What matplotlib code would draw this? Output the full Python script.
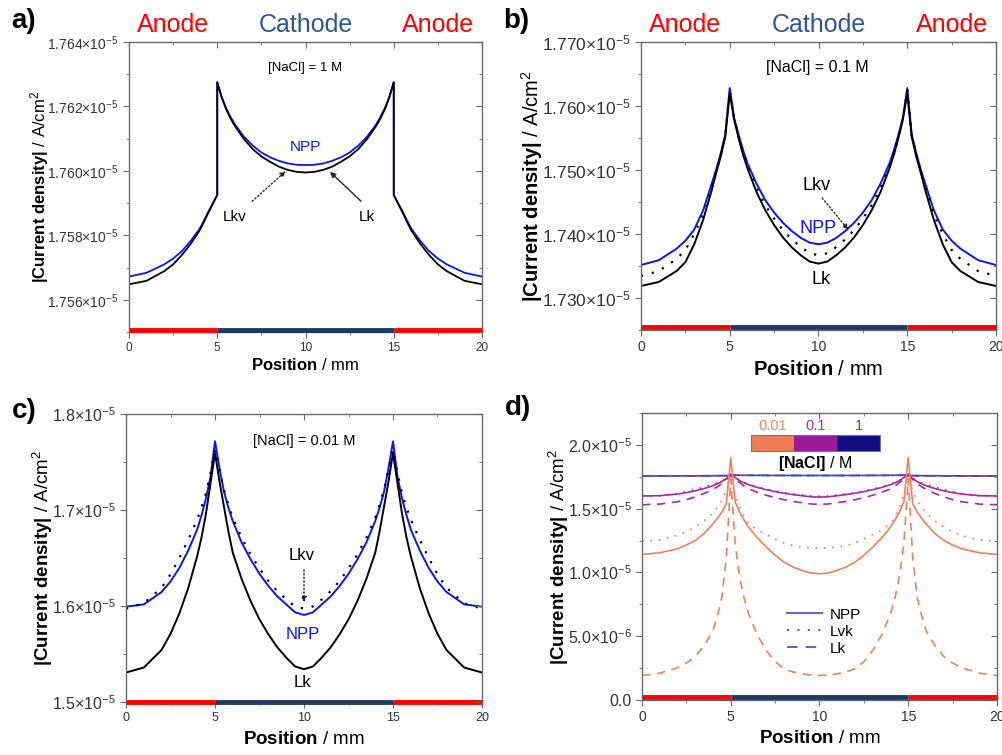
import numpy as np
import matplotlib
matplotlib.use('Agg')
import matplotlib.pyplot as plt
from matplotlib.ticker import MultipleLocator, FuncFormatter, NullFormatter

plt.rcParams['font.family'] = ['Liberation Sans', 'DejaVu Sans']
plt.rcParams['mathtext.fontset'] = 'custom'
plt.rcParams['mathtext.rm'] = 'Liberation Sans'
plt.rcParams['mathtext.bf'] = 'Liberation Sans:bold'
plt.rcParams['mathtext.it'] = 'Liberation Sans:italic'

# ---- data (current density in units of 1e-5 A/cm2, position in mm) ----
# panel a, [NaCl] = 1 M (jump at the electrode edges)
x_a = [0, 1, 2, 2.5, 3, 3.5, 4, 4.25, 4.5, 4.75, 5,
       5,
       5.25, 5.5, 5.75, 6, 6.5, 7, 7.5, 8, 8.5, 9, 9.5,
       10,
       10.5, 11, 11.5, 12, 12.5, 13, 13.5, 14, 14.25, 14.5, 14.75,
       15,
       15, 15.25, 15.5, 15.75, 16, 16.5, 17, 17.5, 18, 19, 20]
npp_a = [1.75672, 1.75684, 1.75710, 1.75728, 1.75751, 1.75783, 1.75820, 1.75846, 1.75874, 1.75899, 1.75925,
         1.76275,
         1.76230, 1.76195, 1.76168, 1.76144, 1.76107, 1.76079, 1.76057, 1.76042, 1.76031, 1.76023, 1.76019,
         1.76018,
         1.76019, 1.76023, 1.76031, 1.76042, 1.76057, 1.76079, 1.76107, 1.76144, 1.76168, 1.76195, 1.76230,
         1.76275,
         1.75925, 1.75899, 1.75874, 1.75846, 1.75820, 1.75783, 1.75751, 1.75728, 1.75710, 1.75684, 1.75672]
lk_a = [1.75648, 1.75659, 1.75689, 1.75710, 1.75739, 1.75774, 1.75815, 1.75842, 1.75871, 1.75898, 1.75925,
        1.76275,
        1.76228, 1.76192, 1.76163, 1.76139, 1.76100, 1.76068, 1.76045, 1.76028, 1.76013, 1.76003, 1.75997,
        1.75995,
        1.75997, 1.76003, 1.76013, 1.76028, 1.76045, 1.76068, 1.76100, 1.76139, 1.76163, 1.76192, 1.76228,
        1.76275,
        1.75925, 1.75898, 1.75871, 1.75842, 1.75815, 1.75774, 1.75739, 1.75710, 1.75689, 1.75659, 1.75648]

# common grid for panels b, c, d
x_pos = [0, 1, 2, 2.5, 3, 3.5, 4, 4.25, 4.5, 4.75,
         5,
         5.25, 5.5, 5.75, 6, 6.5, 7, 7.5, 8, 8.5, 9, 9.5,
         10,
         10.5, 11, 11.5, 12, 12.5, 13, 13.5, 14, 14.25, 14.5, 14.75,
         15,
         15.25, 15.5, 15.75, 16, 16.5, 17, 17.5, 18, 19, 20]

# panel b, [NaCl] = 0.1 M
npp_b = [1.73515, 1.73590, 1.73770, 1.73895, 1.74070, 1.74370, 1.74800, 1.75020, 1.75270, 1.75560,
         1.76280,
         1.75810, 1.75549, 1.75310, 1.75105, 1.74790, 1.74530, 1.74335, 1.74174, 1.74045, 1.73939, 1.73865,
         1.73840,
         1.73865, 1.73939, 1.74045, 1.74174, 1.74335, 1.74530, 1.74790, 1.75105, 1.75310, 1.75549, 1.75810,
         1.76280,
         1.75560, 1.75270, 1.75020, 1.74800, 1.74370, 1.74070, 1.73895, 1.73770, 1.73590, 1.73515]
lkv_b = [1.73344, 1.73420, 1.73610, 1.73750, 1.74000, 1.74300, 1.74750, 1.75000, 1.75245, 1.75540,
         1.76244,
         1.75794, 1.75523, 1.75275, 1.75063, 1.74720, 1.74451, 1.74240, 1.74059, 1.73915, 1.73798, 1.73700,
         1.73668,
         1.73700, 1.73798, 1.73915, 1.74059, 1.74240, 1.74451, 1.74720, 1.75063, 1.75275, 1.75523, 1.75794,
         1.76244,
         1.75540, 1.75245, 1.75000, 1.74750, 1.74300, 1.74000, 1.73750, 1.73610, 1.73420, 1.73344]
lk_b = [1.73188, 1.73250, 1.73420, 1.73560, 1.73840, 1.74220, 1.74700, 1.74970, 1.75220, 1.75520,
        1.76202,
        1.75784, 1.75496, 1.75240, 1.75026, 1.74660, 1.74373, 1.74140, 1.73945, 1.73790, 1.73668, 1.73570,
        1.73537,
        1.73570, 1.73668, 1.73790, 1.73945, 1.74140, 1.74373, 1.74660, 1.75026, 1.75240, 1.75496, 1.75784,
        1.76202,
        1.75520, 1.75220, 1.74970, 1.74700, 1.74220, 1.73840, 1.73560, 1.73420, 1.73250, 1.73188]

# panel c, [NaCl] = 0.01 M
npp_c = [1.5993, 1.6017, 1.6146, 1.6255, 1.6398, 1.6580, 1.6797, 1.6950, 1.7126, 1.7351,
         1.7715,
         1.7438, 1.7195, 1.7025, 1.6884, 1.6660, 1.6485, 1.6335, 1.6208, 1.6100, 1.6017, 1.5934,
         1.5906,
         1.5934, 1.6017, 1.6100, 1.6208, 1.6335, 1.6485, 1.6660, 1.6884, 1.7025, 1.7195, 1.7438,
         1.7715,
         1.7351, 1.7126, 1.6950, 1.6797, 1.6580, 1.6398, 1.6255, 1.6146, 1.6017, 1.5993]
lkv_c = [1.5972, 1.6028, 1.6191, 1.6330, 1.6502, 1.6690, 1.6901, 1.7030, 1.7178, 1.7386,
         1.7629,
         1.7421, 1.7213, 1.7055, 1.6918, 1.6710, 1.6537, 1.6390, 1.6260, 1.6155, 1.6069, 1.5995,
         1.5972,
         1.5995, 1.6069, 1.6155, 1.6260, 1.6390, 1.6537, 1.6710, 1.6918, 1.7055, 1.7213, 1.7421,
         1.7629,
         1.7386, 1.7178, 1.7030, 1.6901, 1.6690, 1.6502, 1.6330, 1.6191, 1.6028, 1.5972]
lk_c = [1.5307, 1.5359, 1.5543, 1.5710, 1.5924, 1.6190, 1.6520, 1.6720, 1.6970, 1.7282,
        1.7594,
        1.7299, 1.7040, 1.6780, 1.6554, 1.6280, 1.6052, 1.5860, 1.5705, 1.5570, 1.5463, 1.5370,
        1.5342,
        1.5370, 1.5463, 1.5570, 1.5705, 1.5860, 1.6052, 1.6280, 1.6554, 1.6780, 1.7040, 1.7299,
        1.7594,
        1.7282, 1.6970, 1.6720, 1.6520, 1.6190, 1.5924, 1.5710, 1.5543, 1.5359, 1.5307]

# panel d, lowest concentration curves
npp_d = [1.1412, 1.1542, 1.1856, 1.2150, 1.2509, 1.3050, 1.3816, 1.4250, 1.4731, 1.5385,
         1.8992,
         1.5516, 1.4731, 1.4100, 1.3555, 1.2700, 1.1987, 1.1350, 1.0810, 1.0430, 1.0157, 0.9960,
         0.9895,
         0.9960, 1.0157, 1.0430, 1.0810, 1.1350, 1.1987, 1.2700, 1.3555, 1.4100, 1.4731, 1.5516,
         1.8992,
         1.5385, 1.4731, 1.4250, 1.3816, 1.3050, 1.2509, 1.2150, 1.1856, 1.1542, 1.1412]
lvk_d = [1.2457, 1.2536, 1.2902, 1.3180, 1.3555, 1.4050, 1.4653, 1.5100, 1.5646, 1.6430,
         1.7476,
         1.6038, 1.5123, 1.4400, 1.3816, 1.3330, 1.2980, 1.2620, 1.2300, 1.2110, 1.1987, 1.1925,
         1.1908,
         1.1925, 1.1987, 1.2110, 1.2300, 1.2620, 1.2980, 1.3330, 1.3816, 1.4400, 1.5123, 1.6038,
         1.7476,
         1.6430, 1.5646, 1.5100, 1.4653, 1.4050, 1.3555, 1.3180, 1.2902, 1.2536, 1.2457]
lk_d = [0.1923, 0.2106, 0.2524, 0.2900, 0.3413, 0.4250, 0.5452, 0.6600, 0.8066, 1.1202,
        1.7345,
        1.2248, 0.9634, 0.8000, 0.6759, 0.5100, 0.3883, 0.3000, 0.2446, 0.2200, 0.2053, 0.1950,
        0.1923,
        0.1950, 0.2053, 0.2200, 0.2446, 0.3000, 0.3883, 0.5100, 0.6759, 0.8000, 0.9634, 1.2248,
        1.7345,
        1.1202, 0.8066, 0.6600, 0.5452, 0.4250, 0.3413, 0.2900, 0.2524, 0.2106, 0.1923]

electrodes = [(0, 5, 'Anode'), (5, 15, 'Cathode'), (15, 20, 'Anode')]
nacl_levels = ['0.01', '0.1', '1']
nacl_colors = ['#EE7B55', '#9A1A9A', '#0E0E80']
line_colors = ['#F08060', '#A52AA5', '#4848B8']

E = 1e-5
def arr(v):
    return np.array(v) * E

RED = '#FF0000'
NAVY = '#1F3864'
CATH = '#2F5597'
BLUE = '#1212F0'
SPINE = '#6a6a6a'


def sci_fmt(dec):
    def f(v, pos):
        if abs(v) < 1e-12:
            return '0.0'
        e = int(np.floor(np.log10(abs(v)) + 1e-9))
        m = v / 10 ** e
        return f'{m:.{dec}f}\u00d710$^{{{e}}}$'
    return FuncFormatter(f)


def style_axes(ax, ylim, major, minor, dec, ytick_fs, xtick_fs, lab_fs, ylab_x, xlab_y, bar_y):
    ax.set_xlim(0, 20)
    ax.set_ylim(*ylim)
    ax.xaxis.set_major_locator(MultipleLocator(5))
    ax.xaxis.set_minor_locator(MultipleLocator(2.5))
    ax.yaxis.set_major_locator(MultipleLocator(major))
    ax.yaxis.set_minor_locator(MultipleLocator(minor))
    ax.yaxis.set_major_formatter(sci_fmt(dec))
    for s in ax.spines.values():
        s.set_color(SPINE)
        s.set_linewidth(1.0)
    ax.tick_params(which='both', direction='out', colors=SPINE, labelcolor='#333333')
    ax.tick_params(which='major', length=4)
    ax.tick_params(which='minor', length=2.5)
    ax.tick_params(axis='y', labelsize=ytick_fs)
    ax.tick_params(axis='x', labelsize=xtick_fs)
    # mirrored ticks on top/right pointing in
    tx = ax.twiny()
    tx.set_xlim(0, 20)
    tx.xaxis.set_major_locator(MultipleLocator(5))
    tx.xaxis.set_minor_locator(MultipleLocator(2.5))
    tx.xaxis.set_major_formatter(NullFormatter())
    ty = ax.twinx()
    ty.set_ylim(*ylim)
    ty.yaxis.set_major_locator(MultipleLocator(major))
    ty.yaxis.set_minor_locator(MultipleLocator(minor))
    ty.yaxis.set_major_formatter(NullFormatter())
    for t in (tx, ty):
        t.tick_params(which='both', direction='in', colors=SPINE)
        t.tick_params(which='major', length=4)
        t.tick_params(which='minor', length=2.5)
        for s in t.spines.values():
            s.set_visible(False)
    ax.set_xlabel(r'$\mathbf{Position}$ / mm', fontsize=lab_fs)
    ax.set_ylabel(r'$\mathbf{|Current\ density|}$ / A/cm$^2$', fontsize=lab_fs)
    ax.yaxis.set_label_coords(ylab_x, 0.5)
    ax.xaxis.set_label_coords(0.5, xlab_y)
    # electrode bar along the bottom
    tr = ax.get_xaxis_transform()
    for x0, x1, name in electrodes:
        ax.plot([x0, x1], [bar_y, bar_y], transform=tr, color=RED if name == 'Anode' else NAVY,
                lw=3.5, solid_capstyle='butt', clip_on=False, zorder=5)


fig = plt.figure(figsize=(10.03, 7.55), dpi=100)
W, H = 1003.0, 755.0

def box(l, r, t, b):
    return [l / W, 1 - b / H, (r - l) / W, (b - t) / H]

ax_a = fig.add_axes(box(129, 482, 42, 332))
ax_b = fig.add_axes(box(641, 996, 42, 330))
ax_c = fig.add_axes(box(126, 482, 414, 702))
ax_d = fig.add_axes(box(642, 997, 413, 700))

# ---- a ----
ax_a.plot(x_a, arr(npp_a), color=BLUE, lw=1.3)
ax_a.plot(x_a, arr(lk_a), color='black', lw=1.3)
ax_a.text(0.5, 0.91, '[NaCl] = 1 M', transform=ax_a.transAxes, ha='center', va='center', fontsize=9.5)
ax_a.text(0.501, 0.638, 'NPP', transform=ax_a.transAxes, ha='center', va='center', fontsize=11, color=BLUE)
ax_a.annotate('', xy=(9.0, 1.76005e-5), xytext=(6.86, 1.7590e-5),
              arrowprops=dict(arrowstyle='-|>', ls=':', lw=1.0, color='#222222', mutation_scale=8))
ax_a.annotate('', xy=(11.27, 1.76003e-5), xytext=(13.26, 1.7590e-5),
              arrowprops=dict(arrowstyle='-|>', lw=1.0, color='#222222', mutation_scale=8))
ax_a.text(0.300, 0.397, 'Lkv', transform=ax_a.transAxes, ha='center', va='center', fontsize=11)
ax_a.text(0.674, 0.397, 'Lk', transform=ax_a.transAxes, ha='center', va='center', fontsize=11)
style_axes(ax_a, (1.755e-5, 1.764e-5), 0.002e-5, 0.001e-5, 3, 10, 8.5, 12,
           -0.22, -0.085, 0.008)

# ---- b ----
ax_b.plot(x_pos, arr(npp_b), color=BLUE, lw=1.4)
ax_b.plot(x_pos, arr(lkv_b), color='black', lw=1.6, ls=(0, (1, 4)))
ax_b.plot(x_pos, arr(lk_b), color='black', lw=1.4)
ax_b.text(0.497, 0.91, '[NaCl] = 0.1 M', transform=ax_b.transAxes, ha='center', va='center', fontsize=11.5)
ax_b.annotate('', xy=(11.79, 1.7403e-5), xytext=(10.11, 1.74594e-5),
              arrowprops=dict(arrowstyle='-|>', ls=':', lw=1.0, color='#222222', mutation_scale=8))
ax_b.text(0.494, 0.503, 'Lkv', transform=ax_b.transAxes, ha='center', va='center', fontsize=13)
ax_b.text(0.50, 0.354, 'NPP', transform=ax_b.transAxes, ha='center', va='center', fontsize=13, color=BLUE)
ax_b.text(0.506, 0.177, 'Lk', transform=ax_b.transAxes, ha='center', va='center', fontsize=13)
style_axes(ax_b, (1.725e-5, 1.770e-5), 0.01e-5, 0.005e-5, 3, 12.5, 10, 14.5,
           -0.27, -0.105, 0.012)

# ---- c ----
ax_c.plot(x_pos, arr(npp_c), color=BLUE, lw=1.4)
ax_c.plot(x_pos, arr(lkv_c), color='black', lw=1.6, ls=(0, (1, 4)))
ax_c.plot(x_pos, arr(lk_c), color='black', lw=1.4)
ax_c.text(0.5, 0.906, '[NaCl] = 0.01 M', transform=ax_c.transAxes, ha='center', va='center', fontsize=10.5)
ax_c.annotate('', xy=(10, 1.6010e-5), xytext=(10, 1.6406e-5),
              arrowprops=dict(arrowstyle='-|>', ls=':', lw=1.0, color='#222222', mutation_scale=8))
ax_c.text(0.494, 0.51, 'Lkv', transform=ax_c.transAxes, ha='center', va='center', fontsize=12)
ax_c.text(0.497, 0.236, 'NPP', transform=ax_c.transAxes, ha='center', va='center', fontsize=12, color=BLUE)
ax_c.text(0.497, 0.066, 'Lk', transform=ax_c.transAxes, ha='center', va='center', fontsize=12)
style_axes(ax_c, (1.5e-5, 1.8e-5), 0.1e-5, 0.05e-5, 1, 11.5, 9, 13.5,
           -0.2, -0.1, 0.0)

# ---- d ----
ax_d.plot(x_a, arr(npp_a), color=line_colors[2], lw=1.2)
ax_d.plot(x_a, arr(lk_a), color=line_colors[2], lw=1.2, ls=(0, (1, 4)))
ax_d.plot(x_a, arr(lk_a), color=line_colors[2], lw=1.2, ls=(0, (5, 4)))
ax_d.plot(x_pos, arr(npp_c), color=line_colors[1], lw=1.2)
ax_d.plot(x_pos, arr(lkv_c), color=line_colors[1], lw=1.2, ls=(0, (1, 4)))
ax_d.plot(x_pos, arr(lk_c), color=line_colors[1], lw=1.2, ls=(0, (5, 4)))
ax_d.plot(x_pos, arr(npp_d), color=line_colors[0], lw=1.2)
ax_d.plot(x_pos, arr(lvk_d), color=line_colors[0], lw=1.2, ls=(0, (1, 4)))
ax_d.plot(x_pos, arr(lk_d), color=line_colors[0], lw=1.2, ls=(0, (5, 4)))

leg_col = '#6660C8'
h1, = ax_d.plot([], [], color=leg_col, lw=1.5)
h2, = ax_d.plot([], [], color=leg_col, lw=1.5, ls=(0, (1, 4)))
h3, = ax_d.plot([], [], color=leg_col, lw=1.5, ls=(0, (5, 4)))
ax_d.legend([h1, h2, h3], ['NPP', 'Lvk', 'Lk'], loc='upper left', bbox_to_anchor=(0.37, 0.37),
            frameon=False, fontsize=11, handlelength=2.3, handletextpad=0.5, labelspacing=0.2)
style_axes(ax_d, (0, 2.25e-5), 0.5e-5, 0.25e-5, 1, 11.5, 10, 13.5,
           -0.2, -0.105, 0.012)

# concentration colour key
cax = fig.add_axes(box(751, 880, 435, 451))
cax.barh([0, 0, 0], [1, 1, 1], left=[0, 1, 2], height=1, color=nacl_colors)
cax.set_xlim(0, 3)
cax.set_ylim(-0.5, 0.5)
cax.set_xticks([])
cax.set_yticks([])
for s in cax.spines.values():
    s.set_color('#777777')
key_txt = ['#F08A60', '#A030B0', '#4A4AB8']
for i, lev in enumerate(nacl_levels):
    cax.text(i + 0.5, 0.6, lev, ha='center', va='bottom', fontsize=10.5, color=key_txt[i])
cax.text(1.5, -0.7, r'$\mathbf{[NaCl]}$ / M', ha='center', va='top', fontsize=11.5)

# electrode names on top of a and b
for ax, fs in ((ax_a, 18), (ax_b, 18)):
    tr = ax.get_xaxis_transform()
    for x0, x1, name in electrodes:
        xc = (x0 + x1) / 2.0
        ax.text(xc, 1.06, name, transform=tr, ha='center', va='center', fontsize=fs,
                color=RED if name == 'Anode' else CATH, clip_on=False)

# panel letters
for lbl, px, py in (('a)', 24, 21), ('b)', 516, 21), ('c)', 24, 411), ('d)', 518, 408)):
    fig.text(px / W, 1 - py / H, lbl, ha='center', va='center', fontsize=20, fontweight='bold')

fig.savefig('out.png', dpi=100)
